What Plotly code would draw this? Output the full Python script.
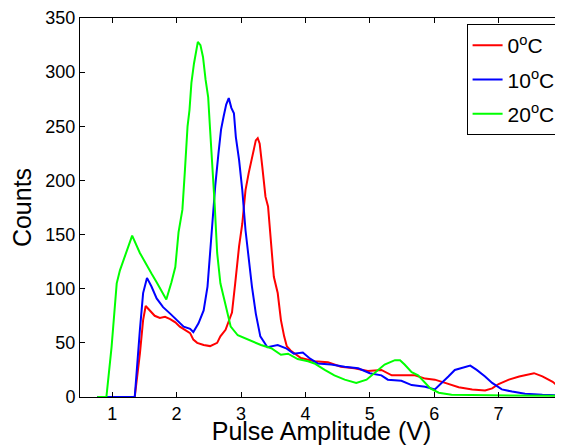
import plotly.graph_objects as go

# Red: 0 degC
x_red = [0.77, 1.35, 1.43, 1.48, 1.52, 1.59, 1.66, 1.74, 1.82, 1.90, 1.98, 2.05, 2.13, 2.21, 2.26, 2.32,
         2.42, 2.52, 2.63, 2.68, 2.76, 2.86, 2.91, 2.97, 3.02, 3.07, 3.12, 3.17, 3.23, 3.26, 3.29,
         3.33, 3.38, 3.42, 3.46, 3.51, 3.57, 3.62, 3.67, 3.71, 3.77, 3.93, 4.14, 4.35, 4.55, 4.76,
         4.97, 5.18, 5.34, 5.54, 5.70, 5.86, 6.01, 6.17, 6.38, 6.59, 6.79, 6.90, 7.00, 7.16, 7.32,
         7.55, 7.68, 7.84, 7.99]
y_red = [0, 0, 40, 71, 84, 79, 75, 73, 74, 72, 69, 65, 62, 59, 53, 50,
         48, 47, 50, 56, 62, 78, 105, 139, 160, 191, 207, 222, 237, 239, 234,
         213, 185, 176, 145, 111, 96, 71, 56, 47, 43, 36, 33, 32, 28, 26.5,
         24, 25, 20, 20, 20, 17, 16, 13, 9, 7, 6, 8, 12, 16, 19,
         22, 19, 14, 6.5]

# Blue: 10 degC
x_blue = [0.77, 1.35, 1.43, 1.48, 1.54, 1.61, 1.69, 1.79, 1.90, 2.00, 2.11, 2.21, 2.26, 2.34, 2.42,
          2.48, 2.51, 2.55, 2.60, 2.65, 2.69, 2.73, 2.77, 2.81, 2.85, 2.89, 2.92, 2.97, 3.02, 3.07,
          3.12, 3.17, 3.23, 3.30, 3.41, 3.57, 3.70, 3.82, 3.96, 4.06, 4.19, 4.40, 4.61, 4.82,
          5.00, 5.18, 5.28, 5.49, 5.65, 5.86, 6.01, 6.12, 6.22, 6.32, 6.43, 6.56, 6.66, 6.79,
          6.90, 7.05, 7.21, 7.41, 7.68, 8.0]
y_blue = [0, 0, 62, 96, 110, 102, 91, 83, 77, 71, 65, 63, 60, 68, 80,
          102, 125, 160, 195, 225, 247, 259, 270, 276, 267, 262, 240, 219, 191, 154,
          127, 102, 77, 56, 46, 48, 45, 40, 41, 36, 31, 30, 28, 26.5,
          22, 20, 16, 15, 11, 9.5, 7, 13, 19, 25, 27, 29, 25, 19,
          13, 7, 5, 3, 2, 1.5]

# Green: 20 degC
x_green = [0.77, 0.91, 0.99, 1.07, 1.12, 1.31, 1.43, 1.51, 1.61, 1.69, 1.84, 1.92, 1.98, 2.03,
           2.09, 2.13, 2.17, 2.20, 2.23, 2.27, 2.33, 2.37, 2.41, 2.45, 2.49, 2.52, 2.56, 2.59,
           2.63, 2.68, 2.74, 2.79, 2.84, 2.95, 3.10, 3.31, 3.47, 3.62, 3.73, 3.88, 4.04, 4.14,
           4.30, 4.45, 4.61, 4.79, 4.95, 5.10, 5.23, 5.39, 5.47, 5.54, 5.65, 5.75, 5.86, 5.94,
           6.07, 6.27, 8.0]
y_green = [0, 0, 46, 105, 117, 149, 133, 124, 114, 106, 90, 106, 120, 152,
           173, 210, 250, 265, 290, 308, 328, 325, 314, 293, 277, 247, 210, 179,
           133, 105, 90, 78, 65, 57, 53, 48, 45, 39, 40, 35, 33, 31,
           25, 20, 16, 13, 16, 24, 30, 34, 34, 30, 23, 20, 13, 8,
           4, 2, 1]

names = ["0<sup>o</sup>C", "10<sup>o</sup>C", "20<sup>o</sup>C"]
colors = ["#ff0000", "#0000ff", "#00ff00"]

fig = go.Figure()
for i, (xs, ys, nm, c) in enumerate(zip([x_red, x_blue, x_green], [y_red, y_blue, y_green], names, colors)):
    fig.add_trace(go.Scatter(x=xs, y=ys, mode="lines", name=nm, legendgroup=f"g{i}",
                             line=dict(color=c, width=2)))

font = "Liberation Sans, Arial, Helvetica, sans-serif"
axis_common = dict(showline=True, linecolor="black", linewidth=1, mirror="allticks",
                   ticks="inside", ticklen=5, tickcolor="black", showgrid=False,
                   zeroline=False, tickfont=dict(family=font, size=18, color="black"))

# page body has an 8px margin: figure is drawn at (8, 8)
fig.update_layout(
    width=555, height=437,
    margin=dict(l=72, r=0, t=10, b=48),
    plot_bgcolor="white", paper_bgcolor="white",
    xaxis=dict(range=[0.5, 8], tickvals=[1, 2, 3, 4, 5, 6, 7, 8],
               title=dict(text="Pulse Amplitude (V)", font=dict(family=font, size=25, color="black"),
                          standoff=0), **axis_common),
    yaxis=dict(range=[0, 350], tickvals=[0, 50, 100, 150, 200, 250, 300, 350],
               title=dict(text="Counts", font=dict(family=font, size=25, color="black"),
                          standoff=8), **axis_common),
    legend=dict(x=0.995, y=0.984, xanchor="right", yanchor="top",
                bordercolor="black", borderwidth=1, bgcolor="white", tracegroupgap=4,
                font=dict(family=font, size=21, color="black")),
    showlegend=True,
)

fig.write_html("out.html")
